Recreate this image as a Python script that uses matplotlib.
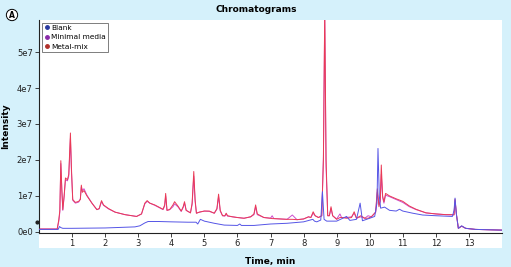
import matplotlib
matplotlib.use("Agg")
import matplotlib.pyplot as plt
from matplotlib.patches import Rectangle
from matplotlib.lines import Line2D

# intensities are in units of 1e7
t_grid = [
    0.00, 0.55, 0.60, 0.63, 0.66, 0.69, 0.72, 0.76, 0.80, 0.86,
    0.90, 0.95, 0.98, 1.02, 1.10, 1.20, 1.25, 1.28, 1.31, 1.36,
    1.45, 1.60, 1.75, 1.82, 1.89, 1.95, 2.10, 2.30, 2.60, 2.95,
    3.10, 3.20, 3.27, 3.35, 3.50, 3.65, 3.75, 3.80, 3.83, 3.87,
    3.95, 4.05, 4.10, 4.20, 4.30, 4.36, 4.40, 4.45, 4.58, 4.63,
    4.68, 4.72, 4.76, 4.85, 5.00, 5.15, 5.30, 5.38, 5.43, 5.48,
    5.55, 5.62, 5.66, 5.70, 5.85, 6.00, 6.20, 6.40, 6.50, 6.55,
    6.60, 6.70, 6.80, 7.00, 7.05, 7.10, 7.50, 7.66, 7.80, 8.00,
    8.15, 8.22, 8.29, 8.35, 8.45, 8.55, 8.60, 8.64, 8.68, 8.73,
    8.78, 8.83, 8.88, 9.00, 9.10, 9.15, 9.30, 9.45, 9.53, 9.60,
    9.73, 9.85, 9.95, 10.05, 10.18, 10.23, 10.28, 10.32, 10.35, 10.39,
    10.43, 10.48, 10.60, 10.80, 11.00, 11.20, 11.40, 11.70, 12.00, 12.30,
    12.55, 12.58, 12.62, 12.68, 12.78, 12.90, 13.20, 13.60, 14.00]

metal_mix = [
    0.08, 0.08, 0.35, 0.60, 1.98, 1.20, 0.62, 1.00, 1.50, 1.45,
    1.60, 2.75, 1.80, 0.90, 0.82, 0.85, 0.90, 1.30, 1.10, 1.15,
    1.00, 0.80, 0.62, 0.65, 0.87, 0.75, 0.65, 0.55, 0.48, 0.43,
    0.50, 0.80, 0.87, 0.80, 0.75, 0.68, 0.63, 0.75, 1.07, 0.60,
    0.62, 0.75, 0.84, 0.72, 0.58, 0.70, 0.84, 0.60, 0.53, 0.80,
    1.68, 0.90, 0.52, 0.55, 0.58, 0.58, 0.52, 0.65, 1.05, 0.60,
    0.45, 0.45, 0.52, 0.45, 0.42, 0.40, 0.38, 0.42, 0.50, 0.75,
    0.50, 0.45, 0.40, 0.38, 0.37, 0.37, 0.35, 0.35, 0.34, 0.36,
    0.42, 0.40, 0.56, 0.45, 0.40, 0.45, 2.00, 6.20, 2.00, 0.45,
    0.45, 0.70, 0.45, 0.35, 0.40, 0.40, 0.38, 0.40, 0.56, 0.38,
    0.45, 0.38, 0.38, 0.42, 0.55, 1.20, 0.70, 0.90, 1.86, 1.00,
    0.84, 1.07, 1.00, 0.92, 0.85, 0.72, 0.63, 0.53, 0.50, 0.48,
    0.48, 0.91, 0.50, 0.10, 0.16, 0.10, 0.07, 0.06, 0.05]

minimal_media = [
    0.08, 0.08, 0.30, 0.55, 1.90, 1.15, 0.60, 0.98, 1.45, 1.42,
    1.55, 2.60, 1.70, 0.88, 0.80, 0.83, 0.92, 1.25, 1.15, 1.20,
    1.02, 0.80, 0.62, 0.64, 0.84, 0.74, 0.64, 0.55, 0.48, 0.43,
    0.50, 0.78, 0.85, 0.80, 0.74, 0.67, 0.62, 0.72, 1.00, 0.60,
    0.62, 0.70, 0.78, 0.70, 0.57, 0.68, 0.80, 0.60, 0.53, 0.76,
    1.55, 0.85, 0.52, 0.55, 0.58, 0.57, 0.52, 0.63, 0.98, 0.58,
    0.45, 0.44, 0.50, 0.44, 0.42, 0.40, 0.38, 0.42, 0.48, 0.70,
    0.48, 0.44, 0.40, 0.38, 0.45, 0.37, 0.35, 0.47, 0.34, 0.36,
    0.42, 0.40, 0.52, 0.45, 0.40, 0.45, 2.10, 6.00, 1.80, 0.45,
    0.45, 0.65, 0.45, 0.36, 0.50, 0.40, 0.40, 0.42, 0.52, 0.38,
    0.42, 0.38, 0.45, 0.42, 0.55, 1.10, 0.75, 0.85, 1.60, 0.95,
    0.80, 1.02, 0.98, 0.90, 0.82, 0.70, 0.62, 0.53, 0.50, 0.48,
    0.47, 0.88, 0.50, 0.10, 0.16, 0.10, 0.07, 0.06, 0.05]

t_blank = [
    0.00, 0.58, 0.62, 0.66, 0.72, 1.00, 2.00, 2.90, 3.05, 3.20,
    3.30, 3.60, 4.00, 4.50, 4.75, 4.80, 4.88, 5.00, 5.30, 5.60,
    6.00, 6.07, 6.12, 6.50, 7.00, 7.50, 8.00, 8.28, 8.33, 8.40,
    8.52, 8.57, 8.62, 8.70, 9.00, 9.30, 9.40, 9.60, 9.71, 9.78,
    10.00, 10.15, 10.22, 10.25, 10.29, 10.33, 10.45, 10.60, 10.80, 10.90,
    11.00, 11.30, 11.60, 12.00, 12.50, 12.55, 12.58, 12.62, 12.68, 12.78,
    12.90, 13.20, 13.60, 14.00]

blank = [
    0.07, 0.07, 0.15, 0.12, 0.10, 0.10, 0.11, 0.14, 0.17, 0.25,
    0.29, 0.29, 0.28, 0.27, 0.27, 0.22, 0.35, 0.30, 0.24, 0.19,
    0.18, 0.22, 0.18, 0.18, 0.22, 0.24, 0.28, 0.35, 0.30, 0.28,
    0.33, 1.12, 0.35, 0.30, 0.30, 0.43, 0.32, 0.35, 0.80, 0.31,
    0.38, 0.43, 0.80, 2.32, 1.00, 0.66, 0.69, 0.60, 0.58, 0.63,
    0.58, 0.52, 0.47, 0.45, 0.43, 0.60, 0.94, 0.50, 0.10, 0.17,
    0.10, 0.07, 0.06, 0.05]

x_ticks = list(range(1, 14))
y_ticks = [0, 1, 2, 3, 4, 5]
y_tick_labels = ["0e0", "1e7", "2e7", "3e7", "4e7", "5e7"]
legend_names = ["Blank", "Minimal media", "Metal-mix"]

bg = "#d5f1fb"
fig = plt.figure(figsize=(5.11, 2.67), dpi=100, facecolor=bg)

W, H = 511, 267
# white panel behind the plot and the x tick labels
fig.patches.append(Rectangle((39 / W, (H - 248) / H), (502 - 39) / W, (248 - 20) / H,
                             transform=fig.transFigure, facecolor="white",
                             edgecolor="none", zorder=0))

ax = fig.add_axes([39 / W, (H - 233) / H, (502 - 39) / W, (233 - 20) / H])
ax.set_zorder(2)
ax.set_facecolor("white")

ax.plot(t_grid, minimal_media, color="#cc4fcf", lw=0.7, zorder=2)
ax.plot(t_grid, metal_mix, color="#ea3a55", lw=0.7, zorder=3)
ax.plot(t_blank, blank, color="#5555e6", lw=0.7, zorder=4)

ax.set_xlim(0, 14)
ax.set_ylim(-0.03, 5.89)
ax.set_xticks(x_ticks)
ax.set_yticks(y_ticks)
ax.set_yticklabels(y_tick_labels)
ax.tick_params(labelsize=6, length=3, width=0.6, pad=1.5, colors="#222222")

for s in ["top", "right"]:
    ax.spines[s].set_visible(False)
for s in ["left", "bottom"]:
    ax.spines[s].set_linewidth(0.8)
    ax.spines[s].set_color("#222222")

ax.set_xlabel("Time, min", fontsize=6.5, fontweight="bold", labelpad=6)
ax.set_ylabel("Intensity", fontsize=6.5, fontweight="bold", labelpad=5)

# small marker on the left axis
ax.plot([-0.06], [0.28], marker="o", ms=2, color="#222222", clip_on=False)

handles = [Line2D([], [], ls="none", marker="o", ms=2.5, color=c)
           for c in ["#2a3aa0", "#8a2aa8", "#b0302a"]]
leg = ax.legend(handles, legend_names, loc="upper left", fontsize=5.3,
                frameon=True, fancybox=False, borderpad=0.3, handletextpad=0.05,
                handlelength=0.9, labelspacing=0.45, borderaxespad=0.35)
leg.get_frame().set_edgecolor("#444444")
leg.get_frame().set_linewidth(0.6)

fig.text(256 / W, 1 - 10 / H, "Chromatograms", ha="center", va="center",
         fontsize=6.5, fontweight="bold")
fig.text(12 / W, 1 - 15 / H, "A", ha="center", va="center", fontsize=5.5,
         fontweight="bold",
         bbox=dict(boxstyle="circle,pad=0.15", fc="white", ec="black", lw=0.7))

fig.savefig("out.png", dpi=100, facecolor=bg)
